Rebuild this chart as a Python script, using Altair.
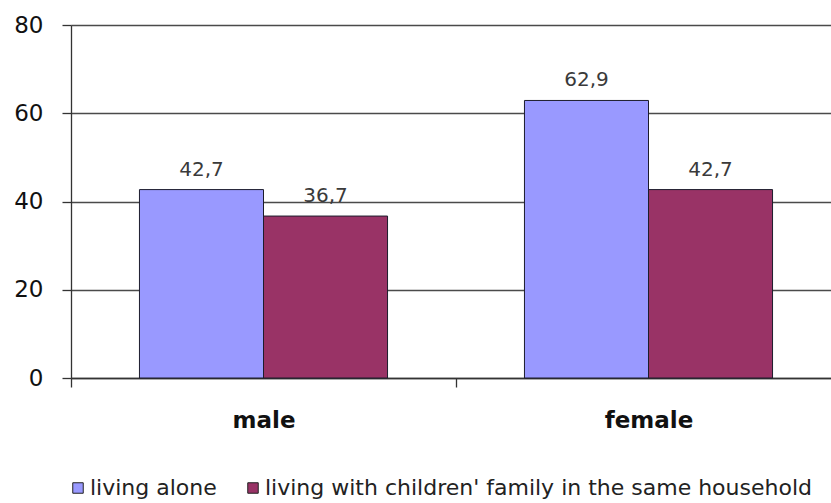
import altair as alt
import pandas as pd

# Categories, series and values
groups = ["male", "female"]
series = ["living alone", "living with children' family in the same household"]
living_alone = [42.7, 62.9]
with_children = [36.7, 42.7]
y_ticks = [0, 20, 40, 60, 80]
colors = ["#9999FF", "#993366"]

rows = []
for g, a, c in zip(groups, living_alone, with_children):
    rows.append({"group": g, "series": series[0], "value": a})
    rows.append({"group": g, "series": series[1], "value": c})
df = pd.DataFrame(rows)
df["label"] = df["value"].map(lambda v: f"{v:.1f}".replace(".", ","))

FONT = "DejaVu Sans"

x_enc = alt.X(
    "group:N",
    sort=groups,
    scale=alt.Scale(domain=groups, paddingInner=0, paddingOuter=0, range=[0, 770]),
    axis=alt.Axis(
        title=None,
        labelAngle=0,
        labelFont=FONT,
        labelFontWeight="bold",
        labelFontSize=23,
        labelColor="#111111",
        labelPadding=22,
        tickBand="extent",
        tickSize=9,
        tickColor="#333333",
        tickWidth=1.3,
        domainColor="#333333",
        domainWidth=1.3,
        grid=False,
    ),
)
xoff_enc = alt.XOffset(
    "series:N",
    sort=series,
    scale=alt.Scale(domain=series, paddingInner=0, paddingOuter=0.552),
)

bars = alt.Chart(df).mark_bar(stroke="#1c1c2c", strokeWidth=1).encode(
    x=x_enc,
    xOffset=xoff_enc,
    y=alt.Y(
        "value:Q",
        scale=alt.Scale(domain=[0, 80], nice=False),
        axis=alt.Axis(
            title=None,
            values=y_ticks,
            labelFont=FONT,
            labelFontSize=23,
            labelColor="#111111",
            labelPadding=19,
            tickSize=9,
            tickColor="#333333",
            tickWidth=1.3,
            domainColor="#333333",
            domainWidth=1.3,
            grid=True,
            gridColor="#4a4a4a",
            gridWidth=1.3,
        ),
    ),
    color=alt.Color(
        "series:N",
        sort=series,
        scale=alt.Scale(domain=series, range=colors),
        legend=alt.Legend(
            title=None,
            orient="none",
            direction="horizontal",
            legendX=-4,
            legendY=452,
            symbolType="square",
            symbolSize=110,
            symbolStrokeColor="#222222",
            symbolStrokeWidth=1,
            symbolOpacity=1,
            labelFont=FONT,
            labelFontSize=22,
            labelColor="#222222",
            labelOffset=1,
            labelLimit=800,
            columnPadding=25,
            padding=0,
        ),
    ),
)

labels = alt.Chart(df).mark_text(
    font=FONT, fontSize=20, color="#3a3a3a", baseline="alphabetic", dy=-14
).encode(
    x=alt.X("group:N", sort=groups),
    xOffset=alt.XOffset("series:N", sort=series),
    y=alt.Y("value:Q"),
    text="label:N",
)

chart = (
    alt.layer(bars, labels)
    .properties(
        width=760,
        height=353,
        autosize=alt.AutoSizeParams(type="none"),
        padding={"left": 71, "top": 25, "right": 0, "bottom": 125},
        background="white",
    )
    .configure_view(stroke=None)
)

chart.save("out.html", embed_options={"renderer": "svg", "actions": False})
